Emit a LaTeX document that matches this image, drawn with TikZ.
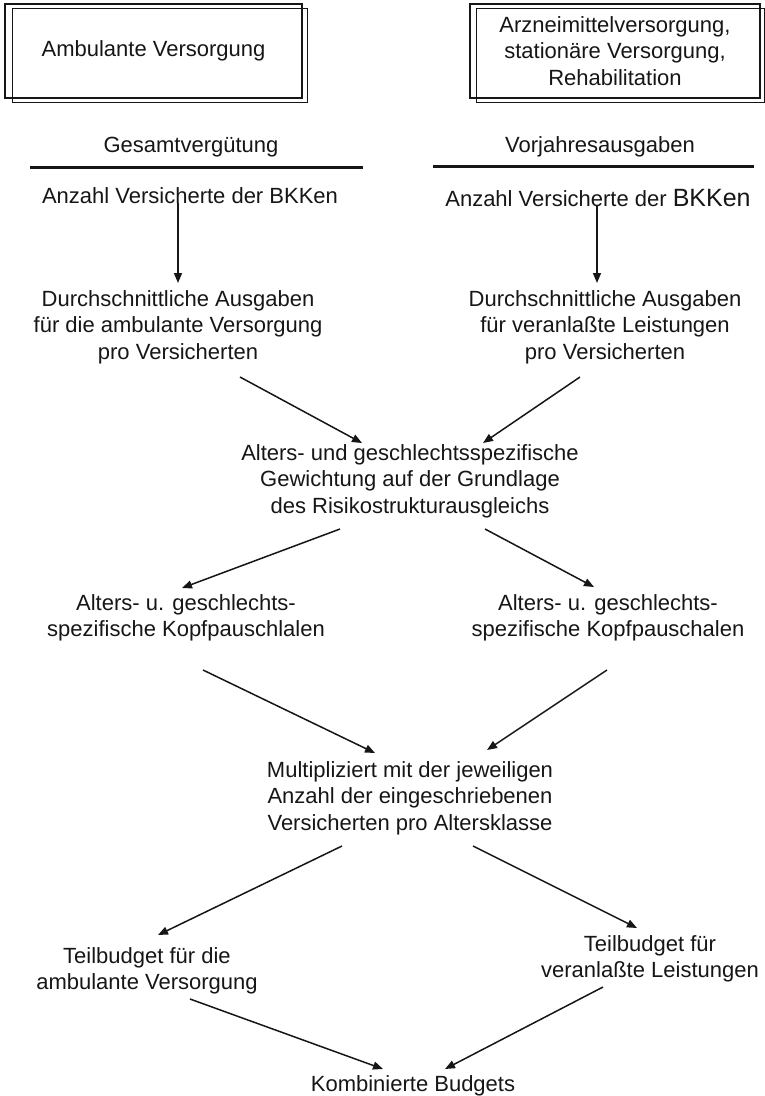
\documentclass[tikz,border=0pt]{standalone}
\usepackage{fontspec}
\setmainfont{Liberation Sans}
\usetikzlibrary{arrows.meta}
\definecolor{ink}{HTML}{161616}
\begin{document}
\begin{tikzpicture}[x=1pt,y=-1pt,
  txt/.style={inner sep=0pt, align=center, font=\fontsize{22}{26.5}\selectfont, text=ink},
  arr/.style={draw=ink, line width=1.5pt, -{Triangle[length=10pt,width=8pt]}},
  frame/.style={draw=ink, line width=1.2pt},
  rulebar/.style={draw=ink, line width=3pt}]
\useasboundingbox (0,0) rectangle (765,1096);

% boxes
\node[txt, frame, minimum width=297pt, minimum height=94pt] (amb) at (153.5,51) {Ambulante Versorgung};
\draw[frame] ([shift={(8,5)}]amb.north west) rectangle ([shift={(5,4)}]amb.south east);
\node[txt, frame, minimum width=290pt, minimum height=94pt] (arz) at (615,51) {Arzneimittelversorgung,\\ stationäre Versorgung,\\ Rehabilitation};
\draw[frame] ([shift={(7,5)}]arz.north west) rectangle ([shift={(4,4)}]arz.south east);

% headings
\node[txt] (gesamt) at (191,147) {Gesamtvergütung};
\node[txt] (vorj) at (600,147) {Vorjahresausgaben};
\draw[rulebar] ([shift={(-161,20)}]gesamt.center) -- ([shift={(172,20)}]gesamt.center);
\draw[rulebar] ([shift={(-167,19)}]vorj.center) -- ([shift={(154,19)}]vorj.center);

% text nodes
\node[txt] (anzL) at (190,196) {Anzahl Versicherte der BKKen};
\node[txt] (anzR) at (598,198) {Anzahl Versicherte der {\fontsize{25}{26.5}\selectfont BKKen}};
\node[txt] (durL) at (178,327) {Durchschnittliche Ausgaben\\ für die ambulante Versorgung\\ pro Versicherten};
\node[txt] (durR) at (605,327) {Durchschnittliche Ausgaben\\ für veranlaßte Leistungen\\ pro Versicherten};
\node[txt] (gew) at (410,481) {Alters- und geschlechtsspezifische\\ Gewichtung auf der Grundlage\\ des Risikostrukturausgleichs};
\node[txt] (kopfL) at (186,618) {Alters- u. geschlechts-\\ spezifische Kopfpauschlalen};
\node[txt] (kopfR) at (608,618) {Alters- u. geschlechts-\\ spezifische Kopfpauschalen};
\node[txt] (mult) at (410,798) {Multipliziert mit der jeweiligen\\ Anzahl der eingeschriebenen\\ Versicherten pro Altersklasse};
\node[txt] (teilL) at (147,971) {Teilbudget für die\\ ambulante Versorgung};
\node[txt] (teilR) at (650,959) {Teilbudget für\\ veranlaßte Leistungen};
\node[txt] (komb) at (413,1086) {Kombinierte Budgets};

% connectors
\draw[arr] ([shift={(-12,7)}]anzL.center) -- ([shift={(0,-44)}]durL.center);
\draw[arr] ([shift={(-1,7)}]anzR.center) -- ([shift={(-8,-44)}]durR.center);
\draw[arr] ([shift={(62,50)}]durL.center) -- ([shift={(-48,-38)}]gew.center);
\draw[arr] ([shift={(-25,50)}]durR.center) -- ([shift={(73,-38)}]gew.center);
\draw[arr] ([shift={(-70,48)}]gew.center) -- ([shift={(-4,-30)}]kopfL.center);
\draw[arr] ([shift={(75,48)}]gew.center) -- ([shift={(-14,-31)}]kopfR.center);
\draw[arr] ([shift={(17,52)}]kopfL.center) -- ([shift={(-35,-45)}]mult.center);
\draw[arr] ([shift={(-1,52)}]kopfR.center) -- ([shift={(77,-48)}]mult.center);
\draw[arr] ([shift={(-68,48)}]mult.center) -- ([shift={(11,-36)}]teilL.center);
\draw[arr] ([shift={(63,48)}]mult.center) -- ([shift={(-13,-31)}]teilR.center);
\draw[arr] ([shift={(43,28)}]teilL.center) -- ([shift={(-30,-17)}]komb.center);
\draw[arr] ([shift={(-47,28)}]teilR.center) -- ([shift={(32,-17)}]komb.center);
\end{tikzpicture}
\end{document}
